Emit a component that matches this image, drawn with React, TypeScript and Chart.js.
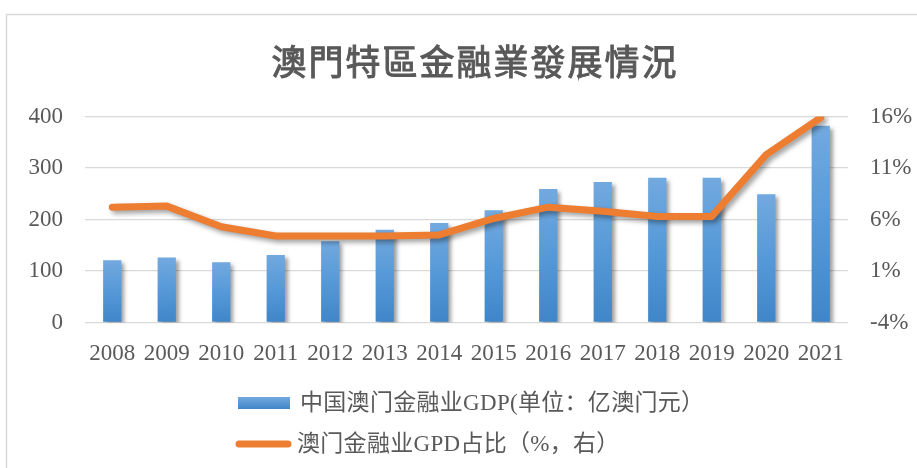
import React, { useEffect, useRef } from "react";
import { Chart, registerables } from "chart.js";

Chart.register(...registerables);

const years = ["2008", "2009", "2010", "2011", "2012", "2013", "2014", "2015", "2016", "2017", "2018", "2019", "2020", "2021"];
const gdpValues = [121, 126, 117, 131, 158, 180, 193, 218, 259, 273, 281, 281, 249, 382];
const shareValues = [7.2, 7.3, 5.3, 4.4, 4.4, 4.4, 4.5, 6.1, 7.2, 6.8, 6.3, 6.3, 12.3, 15.9];
const leftTicks = [0, 100, 200, 300, 400];
const rightTicks = [-4, 1, 6, 11, 16];
const titleText = "澳門特區金融業發展情況";
const barLabel = "中国澳门金融业GDP(单位：亿澳门元）";
const lineLabel = "澳门金融业GPD占比（%，右）";

const TEXT = "#595959";
const GRID = "#d9d9d9";
const ORANGE = "#ED7D31";
const SERIF = '"Liberation Serif", "Noto Sans CJK SC", serif';

export default function App() {
  const ref = useRef<HTMLCanvasElement | null>(null);

  useEffect(() => {
    const canvas = ref.current;
    if (!canvas) return;

    const shadowPlugin = {
      id: "shadows",
      beforeDatasetDraw(chart: any, args: any) {
        const ctx = chart.ctx;
        ctx.save();
        ctx.shadowColor = "rgba(0,0,0,0.38)";
        ctx.shadowBlur = args.index === 0 ? 5 : 4;
        ctx.shadowOffsetX = 3;
        ctx.shadowOffsetY = 3;
      },
      afterDatasetDraw(chart: any) {
        chart.ctx.restore();
      },
    };

    const decoPlugin = {
      id: "deco",
      beforeDraw(chart: any) {
        const ctx = chart.ctx;
        ctx.save();
        ctx.fillStyle = "#ffffff";
        ctx.fillRect(0, 0, chart.width, chart.height);
        ctx.strokeStyle = GRID;
        ctx.lineWidth = 1.5;
        ctx.strokeRect(6.5, 14.5, chart.width + 20, chart.height + 20);
        ctx.restore();
      },
      afterDraw(chart: any) {
        const ctx = chart.ctx;
        ctx.save();
        // title
        ctx.fillStyle = TEXT;
        ctx.strokeStyle = TEXT;
        ctx.lineWidth = 1;
        ctx.font = '35px "Noto Sans CJK TC"';
        ctx.textAlign = "center";
        ctx.textBaseline = "middle";
        (ctx as any).letterSpacing = "2px";
        ctx.fillText(titleText, 475, 62);
        ctx.strokeText(titleText, 475, 62);
        (ctx as any).letterSpacing = "0.3px";

        // legend row 1
        const g = ctx.createLinearGradient(0, 397, 0, 409);
        g.addColorStop(0, "#72a9df");
        g.addColorStop(1, "#3f86c8");
        ctx.fillStyle = g;
        ctx.fillRect(238, 397, 52, 12);
        ctx.fillStyle = TEXT;
        ctx.font = "23px " + SERIF;
        ctx.textAlign = "left";
        ctx.textBaseline = "middle";
        ctx.fillText(chart.data.datasets[1].label, 300, 404);

        // legend row 2
        ctx.strokeStyle = ORANGE;
        ctx.lineWidth = 7;
        ctx.lineCap = "round";
        ctx.beginPath();
        ctx.moveTo(239, 444);
        ctx.lineTo(288, 444);
        ctx.stroke();
        ctx.fillText(chart.data.datasets[0].label, 297, 445);
        ctx.restore();
      },
    };

    const chart = new Chart(canvas, {
      type: "bar",
      data: {
        labels: years,
        datasets: [
          {
            type: "line",
            label: lineLabel,
            data: shareValues,
            yAxisID: "y1",
            borderColor: ORANGE,
            backgroundColor: ORANGE,
            borderWidth: 7,
            borderCapStyle: "round",
            borderJoinStyle: "round",
            pointRadius: 0,
            tension: 0,
            order: 0,
          } as any,
          {
            type: "bar",
            label: barLabel,
            data: gdpValues,
            yAxisID: "y",
            backgroundColor: (c: any) => {
              const chart = c.chart;
              const ys = chart.scales && chart.scales.y;
              if (!ys || c.raw == null) return "#5b9bd5";
              const top = ys.getPixelForValue(c.raw);
              const bottom = ys.getPixelForValue(0);
              if (!isFinite(top) || !isFinite(bottom) || top === bottom) return "#5b9bd5";
              const g = chart.ctx.createLinearGradient(0, top, 0, bottom);
              g.addColorStop(0, "#72a9df");
              g.addColorStop(0.5, "#5699d8");
              g.addColorStop(1, "#3f86c8");
              return g;
            },
            borderWidth: 0,
            categoryPercentage: 1,
            barPercentage: 0.335,
            order: 1,
          } as any,
        ],
      },
      options: {
        animation: false,
        responsive: false,
        maintainAspectRatio: false,
        events: [],
        layout: { padding: { left: 0, right: 0, top: 116.5, bottom: 105.5 } },
        plugins: {
          legend: { display: false },
          title: { display: false },
          tooltip: { enabled: false },
        },
        scales: {
          x: {
            grid: { display: false, drawTicks: false },
            border: { display: false },
            ticks: {
              color: TEXT,
              font: { family: SERIF, size: 23 },
              padding: 18,
              maxRotation: 0,
              autoSkip: false,
            },
            afterFit(scale: any) {
              scale.height = 40;
            },
          },
          y: {
            position: "left",
            min: leftTicks[0],
            max: leftTicks[leftTicks.length - 1],
            afterBuildTicks(scale: any) {
              scale.ticks = leftTicks.map((v) => ({ value: v }));
            },
            grid: { color: GRID, lineWidth: 1.3, drawTicks: false },
            border: { display: false },
            ticks: {
              color: TEXT,
              font: { family: SERIF, size: 23 },
              padding: 22,
            },
            afterFit(scale: any) {
              scale.width = 85;
            },
          },
          y1: {
            position: "right",
            min: rightTicks[0],
            max: rightTicks[rightTicks.length - 1],
            afterBuildTicks(scale: any) {
              scale.ticks = rightTicks.map((v) => ({ value: v }));
            },
            grid: { display: false, drawTicks: false },
            border: { display: false },
            ticks: {
              color: TEXT,
              font: { family: SERIF, size: 23 },
              padding: 22,
              callback: (v: any) => v + "%",
            },
            afterFit(scale: any) {
              scale.width = 69;
            },
          },
        },
      } as any,
      plugins: [shadowPlugin, decoPlugin],
    });

    return () => chart.destroy();
  }, []);

  return (
    <div style={{ position: "fixed", left: 0, top: 0, width: 917, height: 468, background: "#fff" }}>
      <canvas ref={ref} width={917} height={468} style={{ display: "block", width: 917, height: 468 }} />
    </div>
  );
}
